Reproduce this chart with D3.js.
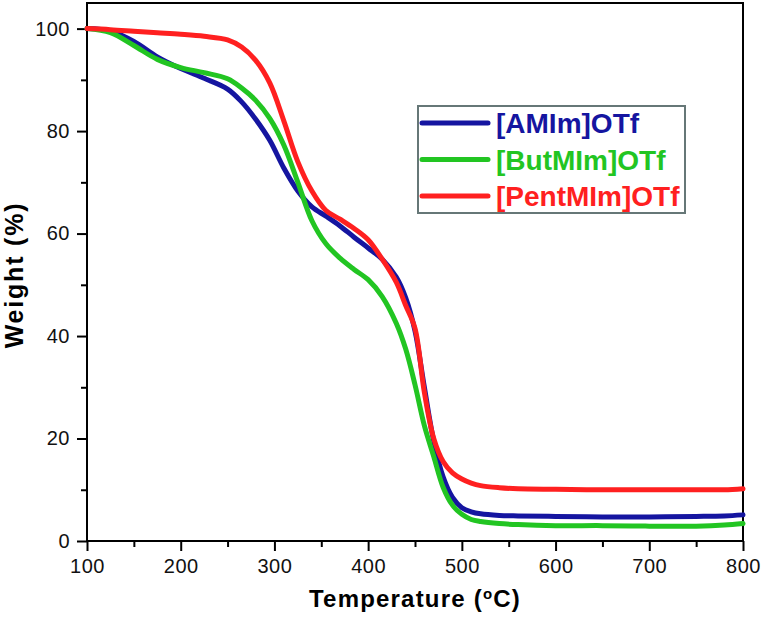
<!DOCTYPE html>
<html lang="en"><head>
<meta charset="utf-8">
<title>TGA curves</title>
<script src="https://cdn.jsdelivr.net/npm/d3@7"></script>
<style>
  body { margin: 0; background: #fff; }
  text { font-family: "Liberation Sans", Arial, sans-serif; }
</style>
</head>
<body>
<svg width="765" height="617"></svg>
<script>

var temps = [100, 125, 150, 175, 200, 225, 250, 265, 280, 295, 310, 325, 340, 355, 370, 385, 400, 415, 430, 440, 450, 460, 470, 480, 490, 500, 510, 520, 540, 560, 600, 650, 700, 750, 780, 800];

var amim = [100, 99.5, 97.5, 94.5, 92.2, 90.3, 88.2, 85.7, 82.3, 78.2, 72.8, 68.3, 65.2, 63.4, 61.5, 59.3, 57.2, 55, 51.5, 47.5, 41, 30, 19.5, 12.5, 8.5, 6.5, 5.7, 5.3, 5.0, 4.9, 4.8, 4.7, 4.7, 4.8, 4.9, 5.1];
var butmim = [100, 99.2, 96.7, 94, 92.4, 91.4, 90.2, 88.4, 86, 82.5, 77.3, 70, 62.5, 58, 55.2, 53, 51, 47.7, 42.5, 37.5, 30.5, 22.5, 16.5, 10.5, 7, 5.2, 4.2, 3.8, 3.4, 3.2, 3.0, 3.0, 2.9, 2.9, 3.1, 3.4];
var pentmim = [100, 99.8, 99.5, 99.2, 98.9, 98.5, 97.8, 96.4, 93.8, 89.4, 82, 74, 68.3, 64.5, 62.8, 61, 58.8, 55, 50.5, 46, 41.5, 29, 20, 15.5, 13.3, 12.1, 11.3, 10.8, 10.4, 10.2, 10.1, 10.0, 10.0, 10.0, 10.0, 10.2];

var names = ["[AMIm]OTf", "[ButMIm]OTf", "[PentMIm]OTf"];
var colors = ["#1515a0", "#22c522", "#ff2020"];
var xTicks = [100, 200, 300, 400, 500, 600, 700, 800];
var yTicks = [0, 20, 40, 60, 80, 100];

var svg = d3.select("svg"),
    margin = {top: 3, right: 22, bottom: 76, left: 87},
    width = +svg.attr("width") - margin.left - margin.right,
    height = +svg.attr("height") - margin.top - margin.bottom;

var g = svg.append("g").attr("transform", "translate(" + margin.left + "," + margin.top + ")");

var x = d3.scaleLinear().domain([100, 800]).range([0, width]);
var y = d3.scaleLinear().domain([0, 105]).range([height, 0]);

// frame
g.append("rect")
  .attr("width", width).attr("height", height)
  .attr("fill", "none").attr("stroke", "#000").attr("stroke-width", 2);

// minor ticks
g.append("g")
  .attr("transform", "translate(0," + height + ")")
  .call(d3.axisBottom(x).tickValues(d3.range(150, 800, 100)).tickSize(6).tickFormat(""))
  .call(function(a) { a.select(".domain").remove(); a.selectAll("line").attr("stroke-width", 2); });
g.append("g")
  .call(d3.axisLeft(y).tickValues(d3.range(10, 101, 20)).tickSize(6).tickFormat(""))
  .call(function(a) { a.select(".domain").remove(); a.selectAll("line").attr("stroke-width", 2); });

// major ticks
var xAxis = g.append("g")
  .attr("transform", "translate(0," + height + ")")
  .call(d3.axisBottom(x).tickValues(xTicks).tickSize(10).tickPadding(8));
var yAxis = g.append("g")
  .call(d3.axisLeft(y).tickValues(yTicks).tickSize(10).tickPadding(7));

[xAxis, yAxis].forEach(function(a) {
  a.select(".domain").remove();
  a.selectAll("line").attr("stroke-width", 2);
  a.selectAll("text").attr("font-size", 20).attr("fill", "#111")
    .attr("letter-spacing", 0.5)
    .style("font-family", "'Liberation Sans', Arial, sans-serif");
});

// curves
var series = [amim, butmim, pentmim];
var line = d3.line()
  .x(function(d, i) { return x(temps[i]); })
  .y(function(d) { return y(d); })
  .curve(d3.curveCatmullRom.alpha(0.5));

series.forEach(function(s, k) {
  g.append("path")
    .datum(s)
    .attr("fill", "none")
    .attr("stroke", colors[k])
    .attr("stroke-width", 5)
    .attr("stroke-linejoin", "round")
    .attr("stroke-linecap", "round")
    .attr("d", line);
});

// legend
var legend = svg.append("g").attr("transform", "translate(418,106)");
legend.append("rect")
  .attr("width", 267).attr("height", 107)
  .attr("fill", "#fff").attr("stroke", "#667777").attr("stroke-width", 2);

names.forEach(function(n, k) {
  var ly = 17 + k * 36.5;
  legend.append("line")
    .attr("x1", 4).attr("x2", 70).attr("y1", ly).attr("y2", ly)
    .attr("stroke", colors[k]).attr("stroke-width", 5).attr("stroke-linecap", "round");
  legend.append("text")
    .attr("x", 78).attr("y", ly + 10)
    .attr("font-size", 28).attr("font-weight", "bold")
    .attr("fill", colors[k])
    .text(n);
});

// axis titles
svg.append("text")
  .attr("x", margin.left + width / 2).attr("y", 607)
  .attr("text-anchor", "middle")
  .attr("font-size", 24).attr("font-weight", "bold")
  .attr("letter-spacing", 1.2)
  .html("Temperature (<tspan baseline-shift='super' font-size='15'>o</tspan>C)");

svg.append("text")
  .attr("transform", "translate(23,275) rotate(-90)")
  .attr("text-anchor", "middle")
  .attr("font-size", 25).attr("font-weight", "bold")
  .attr("letter-spacing", 1.8)
  .text("Weight (%)");

</script>
</body>
</html>
